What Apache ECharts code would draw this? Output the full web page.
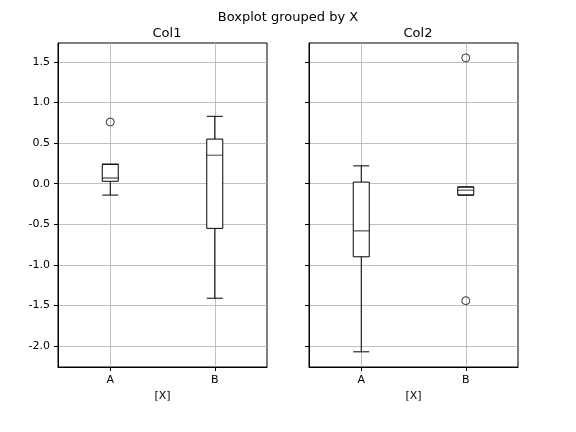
<!DOCTYPE html><html><head><meta charset="utf-8">
<script src="https://cdn.jsdelivr.net/npm/echarts@6/dist/echarts.min.js"></script>
<style>body{margin:0}#c{width:576px;height:432px}</style></head><body><div id="c"></div>
<script>
const categories=['A','B'];
// [low, q1, median, q3, high]
const col1Box=[[-0.14,0.03,0.07,0.24,0.24],[-1.41,-0.55,0.35,0.55,0.83]];
const col2Box=[[-2.07,-0.90,-0.58,0.02,0.22],[-0.14,-0.14,-0.08,-0.04,-0.04]];
const col1Out=[['A',0.76]];
const col2Out=[['B',1.55],['B',-1.44]];
const yTickValues=[-2,-1.5,-1,-0.5,0,0.5,1,1.5];
const F='DejaVu Sans';
const grids=[{left:58,width:209,top:43,height:324,show:true,borderColor:'#000',borderWidth:1,backgroundColor:'rgba(0,0,0,0)'},
 {left:309,width:209,top:43,height:324,show:true,borderColor:'#000',borderWidth:1,backgroundColor:'rgba(0,0,0,0)'}];
function xa(i){return {type:'category',gridIndex:i,data:categories,boundaryGap:true,name:'[X]',nameLocation:'middle',nameGap:22,
 nameTextStyle:{fontFamily:F,fontSize:11,color:'#000'},
 axisLine:{show:true,onZero:false,lineStyle:{color:'#000'}},axisTick:{show:true,alignWithLabel:true,length:4,lineStyle:{color:'#000'}},
 axisLabel:{fontFamily:F,fontSize:11,color:'#000'},splitLine:{show:false}};}
function ya(i){return {type:'value',gridIndex:i,min:-2.257,max:1.733,
 axisLine:{show:true,lineStyle:{color:'#000'}},axisTick:{show:true,length:4,customValues:yTickValues,lineStyle:{color:'#000'}},
 axisLabel:{show:i===0,customValues:yTickValues,fontFamily:F,fontSize:11,color:'#000',formatter:v=>v.toFixed(1)},
 splitLine:{show:false}};}
function series(i,box,out){
 const hl=categories.map(c=>({xAxis:c}));
 const hy=yTickValues.map(v=>({yAxis:v}));
 return [
 {type:'boxplot',xAxisIndex:i,yAxisIndex:i,data:box,boxWidth:[16,16],z:2,
  itemStyle:{color:'#fff',borderColor:'#000',borderWidth:1},
  markLine:{silent:true,symbol:'none',label:{show:false},lineStyle:{color:'#b0b0b0',width:0.8,type:'solid'},data:hl.concat(hy),z:0}},
 {type:'scatter',xAxisIndex:i,yAxisIndex:i,data:categories.map((c,k)=>[c,box[k][2]]),symbol:'rect',symbolSize:[15,1],itemStyle:{color:'#aaa'},z:10},
 {type:'scatter',xAxisIndex:i,yAxisIndex:i,data:out,symbol:'circle',symbolSize:8,z:10,itemStyle:{color:'rgba(0,0,0,0)',borderColor:'#000',borderWidth:1}}
 ];}
const chart=echarts.init(document.getElementById('c'));
chart.setOption({animation:false,backgroundColor:'#fff',
 title:[{text:'Boxplot grouped by X',left:'center',top:6,textStyle:{fontFamily:F,fontSize:13,fontWeight:'normal',color:'#000'}},
  {text:'Col1',left:162,textAlign:'center',top:22,textStyle:{fontFamily:F,fontSize:13,fontWeight:'normal',color:'#000'}},
  {text:'Col2',left:413,textAlign:'center',top:22,textStyle:{fontFamily:F,fontSize:13,fontWeight:'normal',color:'#000'}}],
 grid:grids,xAxis:[xa(0),xa(1)],yAxis:[ya(0),ya(1)],
 series:[...series(0,col1Box,col1Out),...series(1,col2Box,col2Out)]});
</script></body></html>
